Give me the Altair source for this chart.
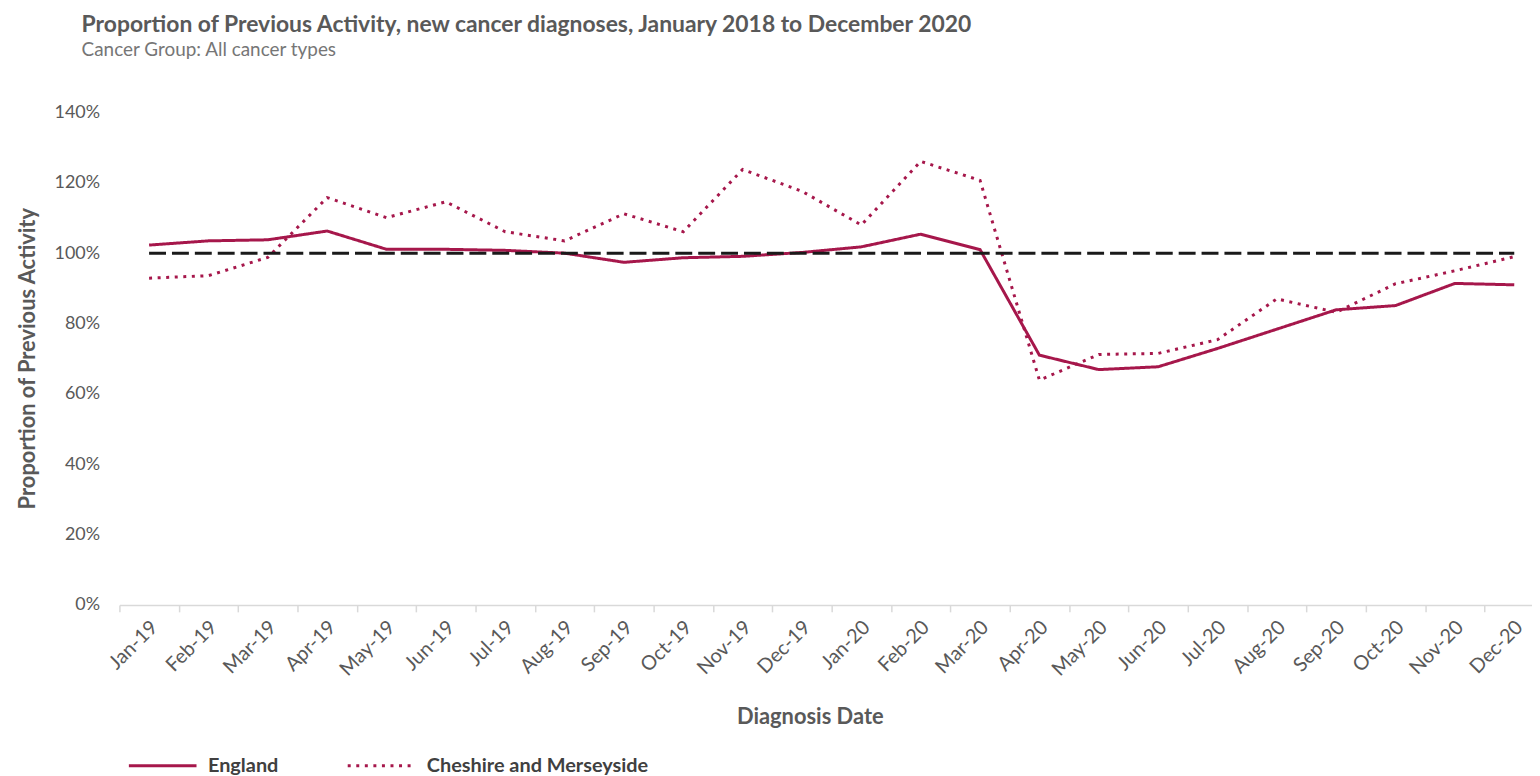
import altair as alt
import pandas as pd

months = ["Jan-19", "Feb-19", "Mar-19", "Apr-19", "May-19", "Jun-19", "Jul-19", "Aug-19",
          "Sep-19", "Oct-19", "Nov-19", "Dec-19", "Jan-20", "Feb-20", "Mar-20", "Apr-20",
          "May-20", "Jun-20", "Jul-20", "Aug-20", "Sep-20", "Oct-20", "Nov-20", "Dec-20"]
england = [102.3, 103.5, 103.8, 106.3, 101.1, 101.1, 100.8, 100.0, 97.4, 98.7, 99.1, 100.2,
           101.8, 105.4, 101.0, 71.0, 66.9, 67.7, 72.9, 78.4, 83.9, 85.1, 91.4, 91.0]
cheshire = [92.9, 93.6, 98.8, 115.8, 110.1, 114.6, 106.1, 103.5, 111.2, 106.1, 123.8, 117.6,
            108.0, 126.1, 120.7, 63.9, 71.2, 71.5, 75.4, 87.0, 83.2, 91.3, 95.0, 99.0]
baseline = [100.0] * 24
series_names = ["England", "Cheshire and Merseyside"]
y_ticks = [0, 20, 40, 60, 80, 100, 120, 140]

LINE = "#A6174B"
FONT = "Lato"

rows = []
for name, vals in zip(series_names, [england, cheshire]):
    for m, v in zip(months, vals):
        rows.append({"Month": m, "Value": v, "Series": name})
df = pd.DataFrame(rows)
df_base = pd.DataFrame({"Month": months, "Value": baseline})

x_enc = alt.X(
    "Month:N", sort=months, bandPosition=0.5,
    scale=alt.Scale(type="band", paddingInner=0, paddingOuter=0, range=[0, 1432]),
    axis=alt.Axis(
        title="Diagnosis Date", labelAngle=-45, labelAlign="right", labelBaseline="middle",
        labelOffset=5, labelPadding=12, tickBand="extent", tickSize=7,
        tickColor="#d9d9d9", domainColor="#d9d9d9", domainWidth=1.5, tickWidth=1.5,
        labelColor="#595959", labelFontSize=20, labelFont=FONT,
        titleColor="#595959", titleFontSize=22, titleFont=FONT, titleFontWeight="bold",
        titleX=694, titleY=112, titleAlign="center", titleBaseline="middle",
        grid=False,
    ),
)
y_enc = alt.Y(
    "Value:Q",
    scale=alt.Scale(domain=[0, 140], nice=False),
    axis=alt.Axis(
        title="Proportion of Previous Activity", values=y_ticks,
        labelExpr="datum.value + '%'", domain=False, ticks=False, grid=False,
        labelPadding=20, labelColor="#595959", labelFontSize=18, labelFont=FONT,
        titleColor="#595959", titleFontSize=22, titleFont=FONT, titleFontWeight="bold",
        titleX=-92, titleY=247, titleAlign="center", titleBaseline="middle",
    ),
)

lines = alt.Chart(df).mark_line(strokeWidth=3).encode(
    x=x_enc,
    y=y_enc,
    color=alt.Color("Series:N", scale=alt.Scale(domain=series_names, range=[LINE, LINE]),
                    legend=alt.Legend(title=None)),
    strokeDash=alt.StrokeDash("Series:N",
                              scale=alt.Scale(domain=series_names, range=[[1, 0], [3, 5.6]]),
                              legend=alt.Legend(title=None)),
    order=alt.Order("Series:N"),
)

base = alt.Chart(df_base).mark_line(color="#1a1a1a", strokeWidth=3, strokeDash=[17, 6]).encode(
    x=alt.X("Month:N", sort=months, bandPosition=0.5),
    y=alt.Y("Value:Q"),
)

chart = alt.layer(lines, base).properties(
    width=1415,
    height=495,
    autosize=alt.AutoSizeParams(type="none"),
    padding={"left": 112, "top": 103, "right": 5, "bottom": 175},
    title=alt.TitleParams(
        text="Proportion of Previous Activity, new cancer diagnoses, January 2018 to December 2020",
        subtitle="Cancer Group: All cancer types",
        anchor="start", frame="group", dx=-38, offset=44,
        font=FONT, fontSize=23, fontWeight="bold", color="#595959",
        subtitleFont=FONT, subtitleFontSize=19, subtitleColor="#767676", subtitlePadding=4,
    ),
).configure_view(stroke=None).configure_legend(
    orient="none", legendX=8, legendY=621, direction="horizontal",
    symbolType="stroke", symbolSize=4624, symbolStrokeWidth=3,
    labelFont=FONT, labelFontSize=20, labelFontWeight="bold", labelColor="#404040",
    labelOffset=10, columnPadding=63, labelLimit=400,
)

chart.save("out.html", embed_options={"renderer": "svg", "actions": False})
